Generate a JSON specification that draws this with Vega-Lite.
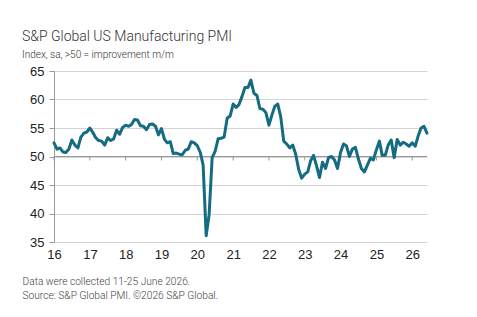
{
  "$schema": "https://vega.github.io/schema/vega-lite/v6.json",
  "autosize": "none",
  "width": 373,
  "height": 171,
  "padding": {"left": 54, "top": 71, "right": 50, "bottom": 75},
  "background": "white",
  "title": {
    "text": "S&P Global US Manufacturing PMI",
    "subtitle": "Index, sa, >50 = improvement m/m",
    "anchor": "start",
    "frame": "group",
    "dx": -32,
    "offset": 5,
    "font": "Roboto",
    "fontSize": 14,
    "fontWeight": 300,
    "color": "#333333",
    "subtitleFont": "Roboto",
    "subtitleFontSize": 10,
    "subtitleFontWeight": 300,
    "subtitleColor": "#333333",
    "subtitlePadding": 6
  },
  "data": {
    "format": {"parse": {"date": "utc:'%Y-%m-%d'"}},
    "values": [
      {"date": "2016-01-01", "pmi": 52.4}, {"date": "2016-02-01", "pmi": 51.3}, {"date": "2016-03-01", "pmi": 51.5}, {"date": "2016-04-01", "pmi": 50.8}, {"date": "2016-05-01", "pmi": 50.7}, {"date": "2016-06-01", "pmi": 51.3}, {"date": "2016-07-01", "pmi": 52.9}, {"date": "2016-08-01", "pmi": 52.0}, {"date": "2016-09-01", "pmi": 51.5}, {"date": "2016-10-01", "pmi": 53.4}, {"date": "2016-11-01", "pmi": 54.1}, {"date": "2016-12-01", "pmi": 54.3},
      {"date": "2017-01-01", "pmi": 55.0}, {"date": "2017-02-01", "pmi": 54.2}, {"date": "2017-03-01", "pmi": 53.3}, {"date": "2017-04-01", "pmi": 52.8}, {"date": "2017-05-01", "pmi": 52.7}, {"date": "2017-06-01", "pmi": 52.0}, {"date": "2017-07-01", "pmi": 53.3}, {"date": "2017-08-01", "pmi": 52.8}, {"date": "2017-09-01", "pmi": 53.1}, {"date": "2017-10-01", "pmi": 54.6}, {"date": "2017-11-01", "pmi": 53.9}, {"date": "2017-12-01", "pmi": 55.1},
      {"date": "2018-01-01", "pmi": 55.5}, {"date": "2018-02-01", "pmi": 55.3}, {"date": "2018-03-01", "pmi": 55.6}, {"date": "2018-04-01", "pmi": 56.5}, {"date": "2018-05-01", "pmi": 56.4}, {"date": "2018-06-01", "pmi": 55.4}, {"date": "2018-07-01", "pmi": 55.3}, {"date": "2018-08-01", "pmi": 54.7}, {"date": "2018-09-01", "pmi": 55.6}, {"date": "2018-10-01", "pmi": 55.7}, {"date": "2018-11-01", "pmi": 55.3}, {"date": "2018-12-01", "pmi": 53.8},
      {"date": "2019-01-01", "pmi": 54.9}, {"date": "2019-02-01", "pmi": 53.0}, {"date": "2019-03-01", "pmi": 52.4}, {"date": "2019-04-01", "pmi": 52.6}, {"date": "2019-05-01", "pmi": 50.5}, {"date": "2019-06-01", "pmi": 50.6}, {"date": "2019-07-01", "pmi": 50.4}, {"date": "2019-08-01", "pmi": 50.3}, {"date": "2019-09-01", "pmi": 51.1}, {"date": "2019-10-01", "pmi": 51.3}, {"date": "2019-11-01", "pmi": 52.6}, {"date": "2019-12-01", "pmi": 52.4},
      {"date": "2020-01-01", "pmi": 51.9}, {"date": "2020-02-01", "pmi": 50.7}, {"date": "2020-03-01", "pmi": 48.5}, {"date": "2020-04-01", "pmi": 36.1}, {"date": "2020-05-01", "pmi": 39.8}, {"date": "2020-06-01", "pmi": 49.8}, {"date": "2020-07-01", "pmi": 50.9}, {"date": "2020-08-01", "pmi": 53.1}, {"date": "2020-09-01", "pmi": 53.2}, {"date": "2020-10-01", "pmi": 53.4}, {"date": "2020-11-01", "pmi": 56.7}, {"date": "2020-12-01", "pmi": 57.1},
      {"date": "2021-01-01", "pmi": 59.2}, {"date": "2021-02-01", "pmi": 58.6}, {"date": "2021-03-01", "pmi": 59.1}, {"date": "2021-04-01", "pmi": 60.5}, {"date": "2021-05-01", "pmi": 62.1}, {"date": "2021-06-01", "pmi": 62.1}, {"date": "2021-07-01", "pmi": 63.4}, {"date": "2021-08-01", "pmi": 61.1}, {"date": "2021-09-01", "pmi": 60.7}, {"date": "2021-10-01", "pmi": 58.4}, {"date": "2021-11-01", "pmi": 58.3}, {"date": "2021-12-01", "pmi": 57.7},
      {"date": "2022-01-01", "pmi": 55.5}, {"date": "2022-02-01", "pmi": 57.3}, {"date": "2022-03-01", "pmi": 58.8}, {"date": "2022-04-01", "pmi": 59.2}, {"date": "2022-05-01", "pmi": 57.0}, {"date": "2022-06-01", "pmi": 52.7}, {"date": "2022-07-01", "pmi": 52.2}, {"date": "2022-08-01", "pmi": 51.5}, {"date": "2022-09-01", "pmi": 52.0}, {"date": "2022-10-01", "pmi": 50.4}, {"date": "2022-11-01", "pmi": 47.7}, {"date": "2022-12-01", "pmi": 46.2},
      {"date": "2023-01-01", "pmi": 46.9}, {"date": "2023-02-01", "pmi": 47.3}, {"date": "2023-03-01", "pmi": 49.2}, {"date": "2023-04-01", "pmi": 50.2}, {"date": "2023-05-01", "pmi": 48.4}, {"date": "2023-06-01", "pmi": 46.3}, {"date": "2023-07-01", "pmi": 49.0}, {"date": "2023-08-01", "pmi": 47.9}, {"date": "2023-09-01", "pmi": 49.8}, {"date": "2023-10-01", "pmi": 50.0}, {"date": "2023-11-01", "pmi": 49.4}, {"date": "2023-12-01", "pmi": 47.9},
      {"date": "2024-01-01", "pmi": 50.7}, {"date": "2024-02-01", "pmi": 52.2}, {"date": "2024-03-01", "pmi": 51.9}, {"date": "2024-04-01", "pmi": 50.0}, {"date": "2024-05-01", "pmi": 51.3}, {"date": "2024-06-01", "pmi": 51.6}, {"date": "2024-07-01", "pmi": 49.6}, {"date": "2024-08-01", "pmi": 47.9}, {"date": "2024-09-01", "pmi": 47.3}, {"date": "2024-10-01", "pmi": 48.5}, {"date": "2024-11-01", "pmi": 49.7}, {"date": "2024-12-01", "pmi": 49.4},
      {"date": "2025-01-01", "pmi": 51.2}, {"date": "2025-02-01", "pmi": 52.7}, {"date": "2025-03-01", "pmi": 50.2}, {"date": "2025-04-01", "pmi": 50.2}, {"date": "2025-05-01", "pmi": 52.0}, {"date": "2025-06-01", "pmi": 52.9}, {"date": "2025-07-01", "pmi": 49.8}, {"date": "2025-08-01", "pmi": 53.0}, {"date": "2025-09-01", "pmi": 52.0}, {"date": "2025-10-01", "pmi": 52.5}, {"date": "2025-11-01", "pmi": 52.2}, {"date": "2025-12-01", "pmi": 51.8},
      {"date": "2026-01-01", "pmi": 52.4}, {"date": "2026-02-01", "pmi": 51.8}, {"date": "2026-03-01", "pmi": 53.5}, {"date": "2026-04-01", "pmi": 55.0}, {"date": "2026-05-01", "pmi": 55.3}, {"date": "2026-06-01", "pmi": 54.1}
    ]
  },
  "encoding": {
    "x": {
      "field": "date",
      "type": "temporal",
      "scale": {"type": "utc", "domain": [{"year": 2016, "month": 1, "date": 1, "utc": true}, {"year": 2026, "month": 6, "date": 1, "utc": true}]},
      "axis": {
        "labelExpr": "utcFormat(datum.value, '%y')",
        "values": [
          {"year": 2016, "utc": true}, {"year": 2017, "utc": true}, {"year": 2018, "utc": true}, {"year": 2019, "utc": true},
          {"year": 2020, "utc": true}, {"year": 2021, "utc": true}, {"year": 2022, "utc": true}, {"year": 2023, "utc": true},
          {"year": 2024, "utc": true}, {"year": 2025, "utc": true}, {"year": 2026, "utc": true}
        ],
        "domain": false,
        "ticks": false,
        "grid": false,
        "labelPadding": 6,
        "labelFont": "Liberation Sans",
        "labelFontSize": 13,
        "labelColor": "#222222",
        "labelFlush": false,
        "labelOverlap": false,
        "title": ["Data were collected 11-25 June 2026.", "Source: S&P Global PMI. ©2026 S&P Global."],
        "titleFont": "Roboto",
        "titleFontWeight": 300,
        "titleFontSize": 10.2,
        "titleColor": "#444444",
        "titleAlign": "left",
        "titleAnchor": "start",
        "titleBaseline": "alphabetic",
        "titleLineHeight": 14,
        "titleX": -32,
        "titleY": 42
      }
    }
  },
  "layer": [
    {
      "mark": {"type": "rule", "color": "#999999", "strokeWidth": 1},
      "encoding": {
        "x": null,
        "y": {
          "datum": 50,
          "type": "quantitative",
          "scale": {"domain": [35, 65], "nice": false, "zero": false},
          "axis": {
            "values": [35, 40, 45, 50, 55, 60, 65],
            "grid": true,
            "gridColor": "#d4d4d4",
            "gridWidth": 1,
            "domain": true,
            "domainColor": "#999999",
            "ticks": true,
            "tickColor": "#999999",
            "tickSize": 5,
            "labelPadding": 5,
            "labelFont": "Liberation Sans",
            "labelFontSize": 13,
            "labelColor": "#222222",
            "labelOverlap": false,
            "title": null
          }
        }
      }
    },
    {
      "transform": [{"filter": "utcmonth(datum.date) == 0"}],
      "mark": {"type": "rule", "color": "#999999", "strokeWidth": 1},
      "encoding": {
        "y": {
          "datum": 50,
          "type": "quantitative",
          "scale": {"domain": [35, 65], "nice": false, "zero": false},
          "axis": {
            "values": [35, 40, 45, 50, 55, 60, 65],
            "grid": true,
            "gridColor": "#d4d4d4",
            "gridWidth": 1,
            "domain": true,
            "domainColor": "#999999",
            "ticks": true,
            "tickColor": "#999999",
            "tickSize": 5,
            "labelPadding": 5,
            "labelFont": "Liberation Sans",
            "labelFontSize": 13,
            "labelColor": "#222222",
            "labelOverlap": false,
            "title": null
          }
        },
        "y2": {"datum": 49.3}
      }
    },
    {
      "mark": {"type": "line", "color": "#146b82", "strokeWidth": 3, "strokeJoin": "round", "strokeCap": "round"},
      "encoding": {
        "y": {
          "field": "pmi",
          "type": "quantitative",
          "scale": {"domain": [35, 65], "nice": false, "zero": false},
          "axis": {
            "values": [35, 40, 45, 50, 55, 60, 65],
            "grid": true,
            "gridColor": "#d4d4d4",
            "gridWidth": 1,
            "domain": true,
            "domainColor": "#999999",
            "ticks": true,
            "tickColor": "#999999",
            "tickSize": 5,
            "labelPadding": 5,
            "labelFont": "Liberation Sans",
            "labelFontSize": 13,
            "labelColor": "#222222",
            "labelOverlap": false,
            "title": null
          }
        }
      }
    }
  ],
  "config": {"view": {"stroke": null}}
}
